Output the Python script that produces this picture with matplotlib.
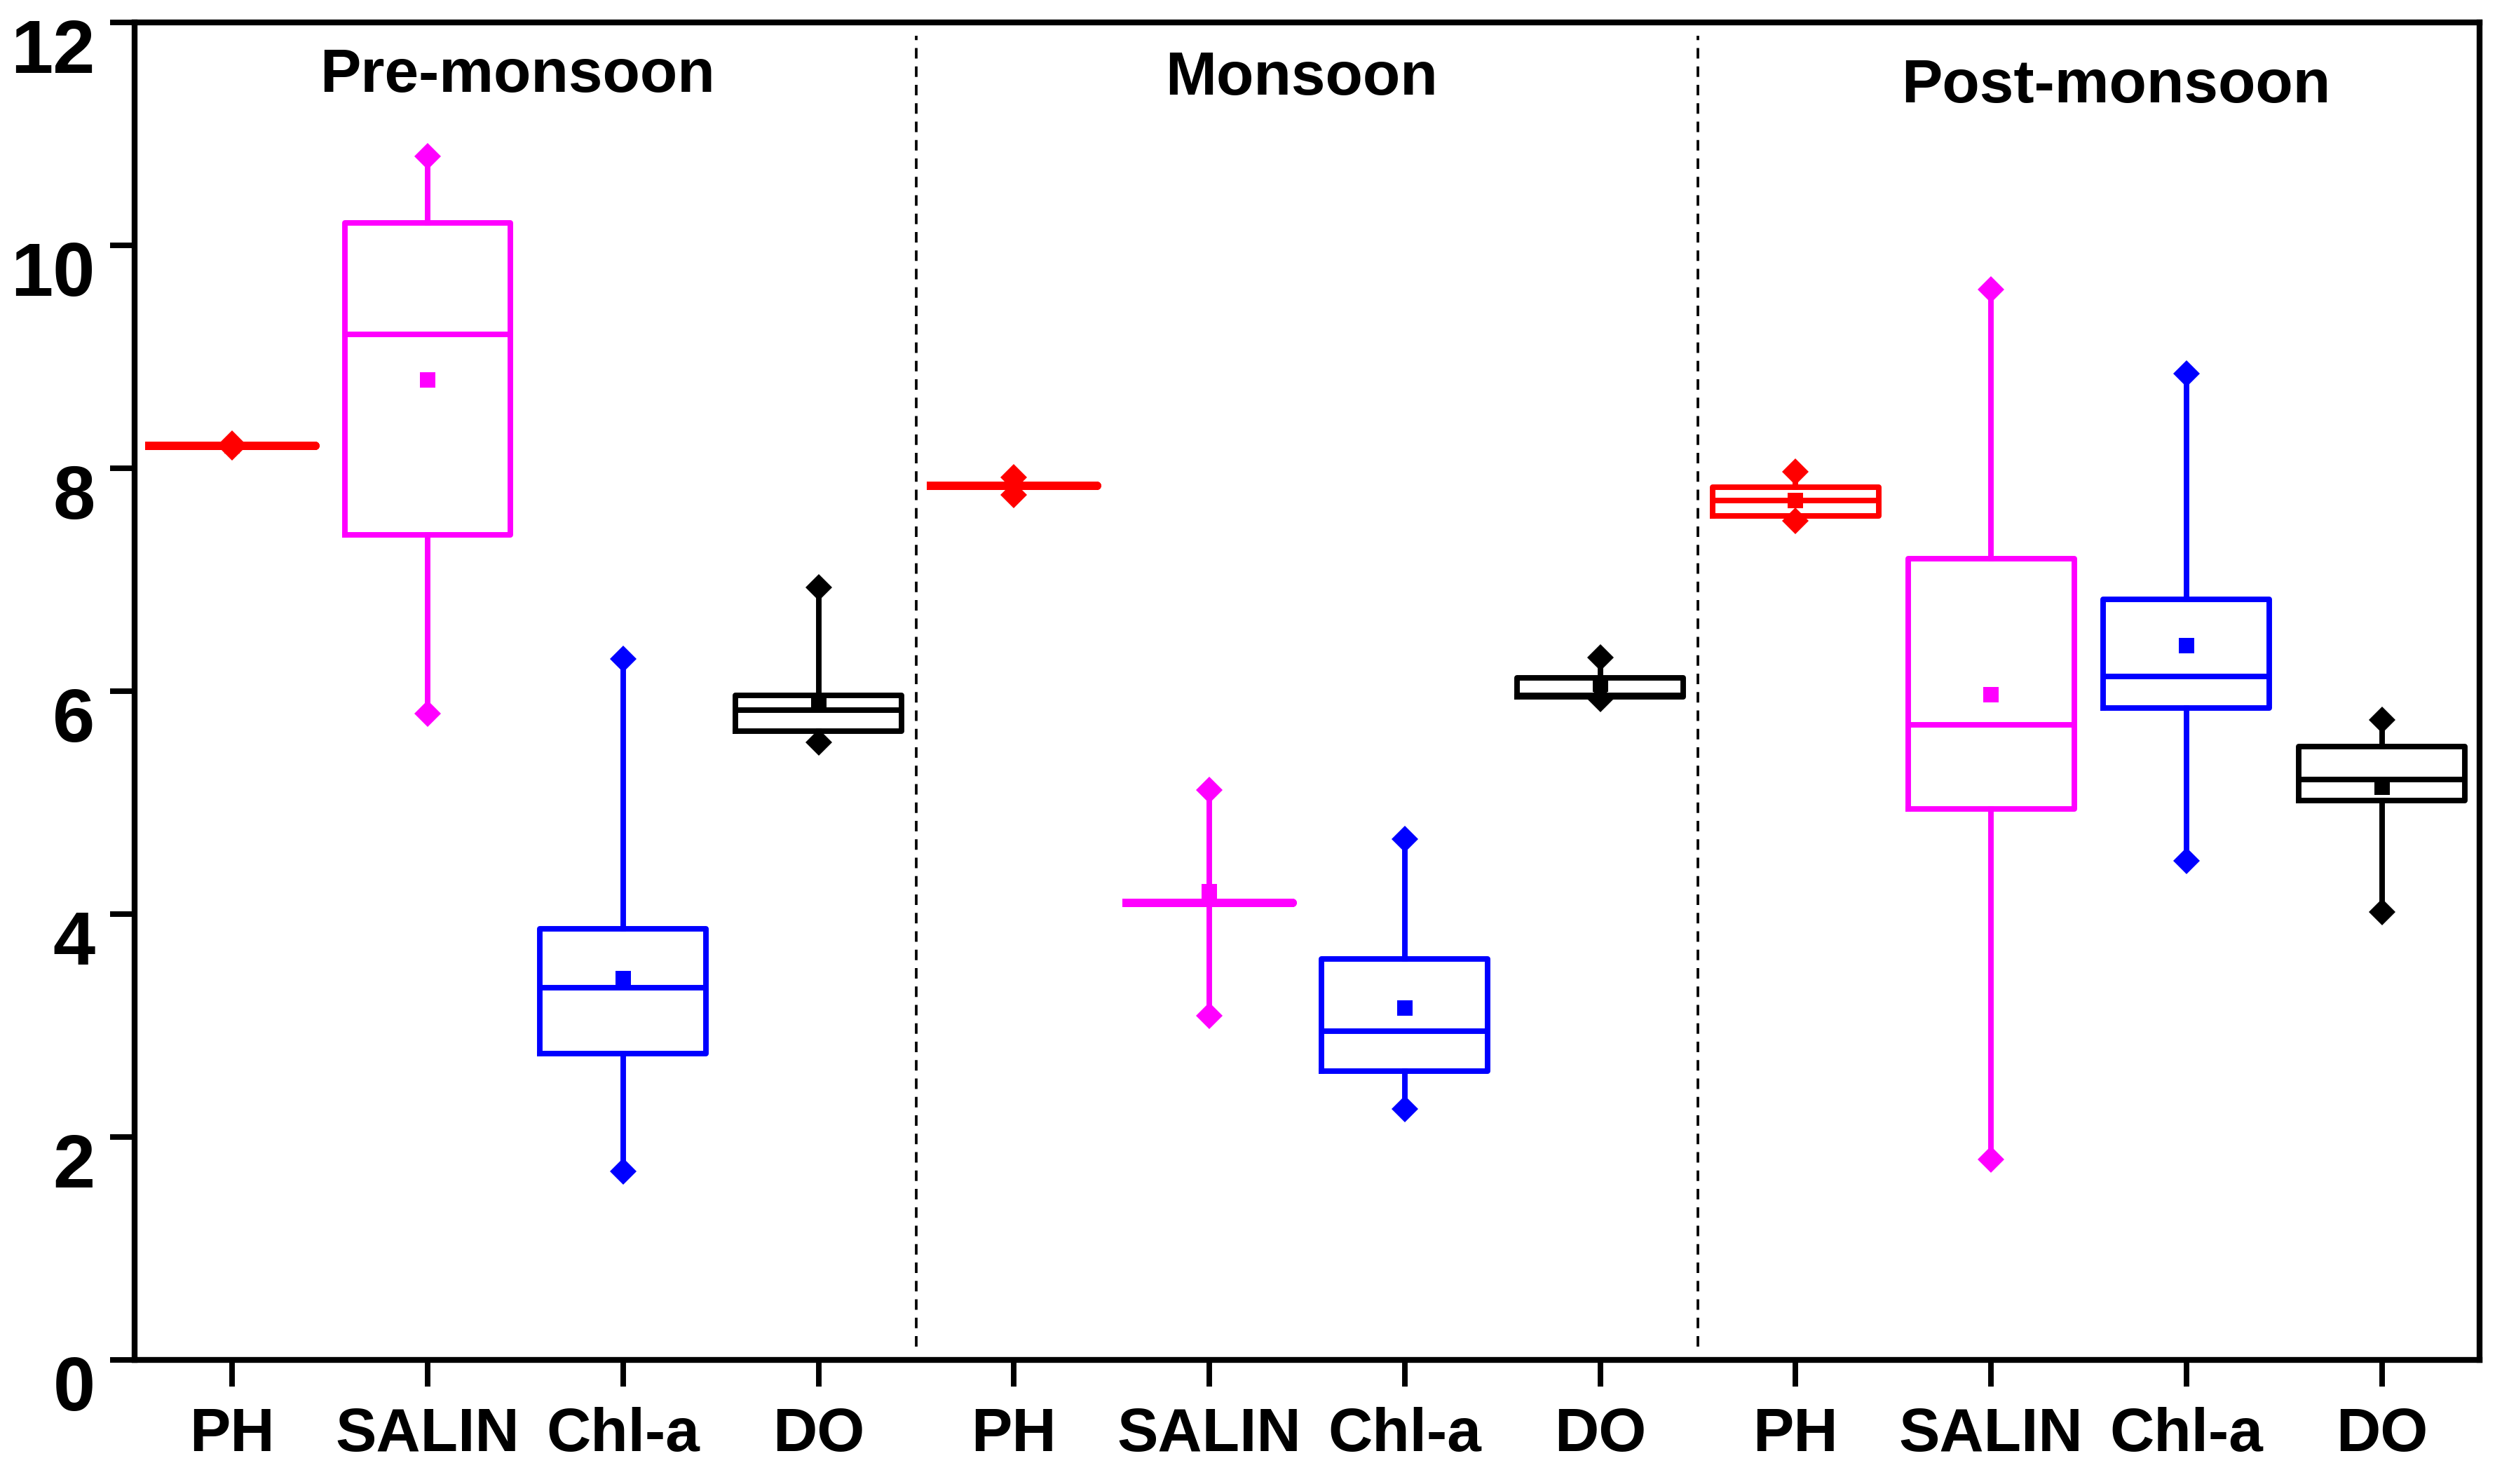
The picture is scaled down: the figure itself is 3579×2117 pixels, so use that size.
import matplotlib
matplotlib.use("Agg")
import matplotlib.pyplot as plt
import matplotlib.transforms as mtransforms

plt.rcParams["font.family"] = ["Liberation Sans", "DejaVu Sans"]
plt.rcParams["font.weight"] = "bold"

# one box per variable per season
variables = ["PH", "SALIN", "Chl-a", "DO"]
seasons = ["Pre-monsoon", "Monsoon", "Post-monsoon"]
var_colors = ["#ff0000", "#ff00ff", "#0000ff", "#000000"]

med = [8.20, 9.20, 3.34, 5.83, 7.84, 4.10, 2.95, 5.96, 7.71, 5.70, 6.13, 5.21]
q1 = [8.20, 7.40, 2.75, 5.64, 7.84, 4.10, 2.59, 5.95, 7.57, 4.94, 5.85, 5.02]
q3 = [8.20, 10.20, 3.87, 5.96, 7.84, 4.10, 3.60, 6.12, 7.83, 7.19, 6.82, 5.50]
whislo = [8.19, 5.80, 1.69, 5.54, 7.76, 3.09, 2.25, 5.93, 7.53, 1.80, 4.48, 4.02]
whishi = [8.22, 10.80, 6.29, 6.93, 7.92, 5.11, 4.67, 6.30, 7.97, 9.60, 8.85, 5.74]
means = [8.20, 8.79, 3.42, 5.89, 7.84, 4.20, 3.16, 6.06, 7.71, 5.97, 6.41, 5.14]

n = len(med)
positions = list(range(1, n + 1))
labels = variables * len(seasons)
colors = var_colors * len(seasons)

stats = []
for i in range(n):
    stats.append(dict(med=med[i], q1=q1[i], q3=q3[i], whislo=whislo[i],
                      whishi=whishi[i], mean=means[i], fliers=[]))

fig = plt.figure(figsize=(3579 / 300, 2117 / 300), dpi=300)
ax = fig.add_axes([0.0536, 0.0836, 0.9347, 0.9014])

lw = 1.9
bp = ax.bxp(stats, positions=positions, widths=0.85, showcaps=False,
            showfliers=False, showmeans=True, patch_artist=False,
            boxprops=dict(linewidth=lw), medianprops=dict(linewidth=lw),
            whiskerprops=dict(linewidth=lw),
            meanprops=dict(marker="s", markersize=5.5, markeredgewidth=0))

for i, c in enumerate(colors):
    bp["boxes"][i].set_color(c)
    bp["medians"][i].set_color(c)
    bp["whiskers"][2 * i].set_color(c)
    bp["whiskers"][2 * i + 1].set_color(c)
    bp["means"][i].set_markerfacecolor(c)
    bp["means"][i].set_zorder(4)
    # thicker line where the box collapses to a single value
    if q1[i] == q3[i]:
        bp["boxes"][i].set_linewidth(2.8)
        bp["medians"][i].set_linewidth(2.8)
    # diamonds at whisker ends
    ax.plot([positions[i], positions[i]], [whislo[i], whishi[i]], ls="none",
            marker="D", markersize=6.5, color=c, markeredgewidth=0, zorder=5)

# season separators
for xsep in [4.5, 8.5]:
    ax.axvline(xsep, ymin=0.01, ymax=0.99, color="black", lw=0.9,
               ls=(0, (4, 3)))

title_pos = [2.46, 6.47, 10.64]
title_y = [11.52, 11.49, 11.42]
for s, xp, yp in zip(seasons, title_pos, title_y):
    ax.text(xp, yp, s, ha="center", va="center", fontsize=21,
            fontweight="bold")

ax.set_xlim(0.5, 12.5)
ax.set_ylim(0, 12)
ax.set_xticks(positions)
ax.set_xticklabels(labels, fontsize=21, fontweight="bold")
ax.set_yticks([0, 2, 4, 6, 8, 10, 12])
ax.set_yticklabels(["0", "2", "4", "6", "8", "10", "12"], fontsize=26,
                   fontweight="bold")
ax.tick_params(axis="y", direction="out", length=8.5, width=1.9, pad=5)
ax.tick_params(axis="x", direction="out", length=9, width=1.9, pad=7)

# y labels sit a little below their ticks in the original
offset = mtransforms.ScaledTranslation(0, -8.0 / 72, fig.dpi_scale_trans)
for lab in ax.get_yticklabels():
    lab.set_transform(lab.get_transform() + offset)

for sp in ax.spines.values():
    sp.set_linewidth(2.0)

fig.savefig("out.png", dpi=300)
